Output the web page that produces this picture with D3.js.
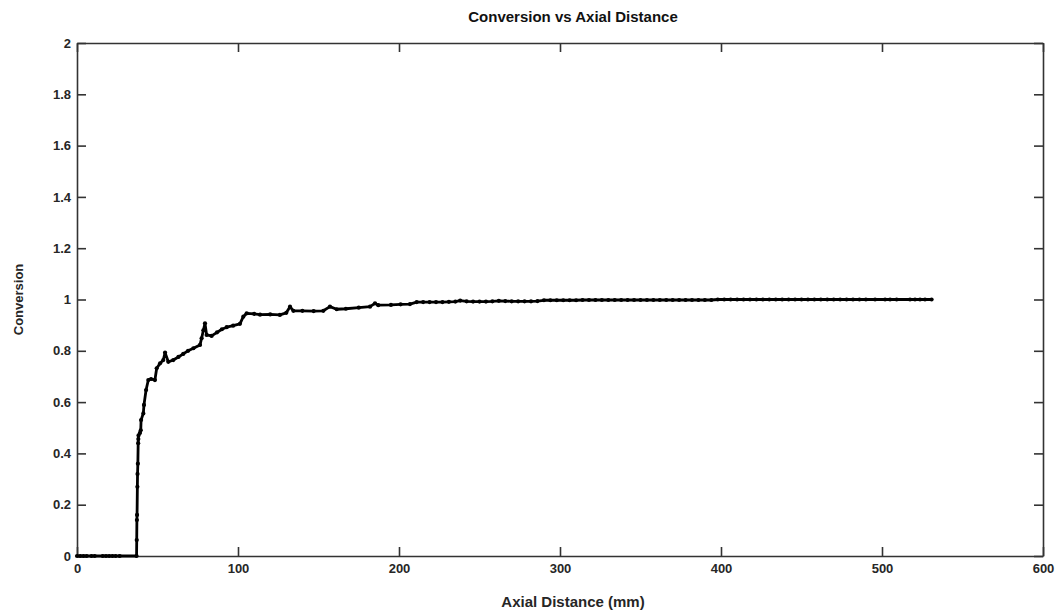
<!DOCTYPE html>
<html>
<head>
<meta charset="utf-8">
<script src="https://cdn.jsdelivr.net/npm/d3@7"></script>
<style>
  body { margin: 0; background: #fff; }
  svg { display: block; font-family: "Liberation Sans", Arial, sans-serif; }
  .axis path, .axis line { stroke: #333; stroke-width: 1.6; }
  .axis text { font-size: 13px; font-weight: bold; fill: #262626; }
</style>
</head>
<body>
<svg width="1060" height="611"></svg>
<script>
// values
var axialDistance = [
  0, 2, 4, 6, 9, 11, 16, 18, 20, 22, 24, 26.5, 37,
  37.1, 37.2, 37.3, 37.5, 37.6, 37.8, 38, 38.1, 38.2, 39.1, 39.6, 39.8,
  41.2, 41.6, 42.9, 44.3, 46, 48.4, 49.5, 51.6, 53.6, 54.7, 56.7, 59.8,
  63, 66, 69, 72.3, 76.4, 77.4, 78.5, 79.5, 80.5, 83.6, 87, 90, 93, 97,
  101.2, 103.3, 105.4, 110, 113.7, 120, 126, 130, 132.3, 134.4, 140, 147,
  153, 157.1, 161.3, 167, 175, 182, 185.1, 187.1, 195, 201, 206.8,
  211, 215, 219, 223, 227, 231, 235, 238, 242, 246, 250, 254, 258, 262,
  266, 270, 274, 278, 282, 286, 290, 294, 298, 302, 306, 310, 314, 318,
  322, 326, 330, 334, 338, 342, 346, 350, 354, 358, 362, 366, 370, 374,
  378, 382, 386, 390, 394, 398, 402, 406, 410, 414, 418, 422, 426, 430,
  434, 438, 442, 446, 450, 454, 458, 462, 466, 470, 474, 478, 482, 486,
  490, 495.7, 501.9, 505, 509.1, 517.4, 520.5, 523.6, 526.7, 530.8
];
var conversion = [
  0, 0, 0, 0, 0, 0, 0, 0, 0, 0, 0, 0, 0,
  0.062, 0.14, 0.16, 0.27, 0.32, 0.36, 0.44, 0.456, 0.47, 0.48, 0.49, 0.53,
  0.556, 0.589, 0.647, 0.686, 0.69, 0.686, 0.732, 0.751, 0.764, 0.793, 0.757, 0.764,
  0.776, 0.788, 0.8, 0.81, 0.823, 0.849, 0.88, 0.907, 0.862, 0.858, 0.872, 0.884, 0.892, 0.898,
  0.905, 0.933, 0.946, 0.944, 0.941, 0.942, 0.94, 0.948, 0.972, 0.956, 0.956, 0.955,
  0.956, 0.972, 0.962, 0.964, 0.968, 0.972, 0.985, 0.978, 0.979, 0.981, 0.982,
  0.99, 0.99, 0.99, 0.99, 0.99, 0.991, 0.992, 0.996, 0.993, 0.992, 0.992, 0.992, 0.993, 0.995,
  0.994, 0.993, 0.993, 0.993, 0.993, 0.994, 0.997, 0.997, 0.997, 0.997, 0.997, 0.997, 0.998, 0.998,
  0.998, 0.998, 0.998, 0.998, 0.998, 0.998, 0.998, 0.998, 0.998, 0.998, 0.998, 0.998, 0.998, 0.998,
  0.998, 0.998, 0.998, 0.998, 0.998, 1, 1, 1, 1, 1, 1, 1, 1, 1,
  1, 1, 1, 1, 1, 1, 1, 1, 1, 1, 1, 1, 1, 1,
  1, 1, 1, 1, 1, 1, 1, 1, 1, 1
];
var xTicks = [0, 100, 200, 300, 400, 500, 600];
var yTicks = [0, 0.2, 0.4, 0.6, 0.8, 1, 1.2, 1.4, 1.6, 1.8, 2];

var points = axialDistance.map(function(d, i) { return {x: d, y: conversion[i]}; });

var svg = d3.select("svg");
var margin = {left: 77, top: 43, right: 1060 - 1043, bottom: 611 - 556};
var width = 1060 - margin.left - margin.right,
    height = 611 - margin.top - margin.bottom;

var x = d3.scaleLinear().domain([0, 600]).range([0, width]);
var y = d3.scaleLinear().domain([0, 2]).range([height, 0]);

var g = svg.append("g")
    .attr("transform", "translate(" + margin.left + "," + margin.top + ")");

//axes: ticks point inward, mirrored on top and right
g.append("g").attr("class", "axis")
    .attr("transform", "translate(0," + height + ")")
    .call(d3.axisBottom(x).tickValues(xTicks).tickFormat(d3.format("d"))
      .tickSizeInner(-9).tickSizeOuter(0).tickPadding(8));
g.append("g").attr("class", "axis")
    .call(d3.axisTop(x).tickValues(xTicks).tickFormat("")
      .tickSizeInner(-9).tickSizeOuter(0));
g.append("g").attr("class", "axis")
    .call(d3.axisLeft(y).tickValues(yTicks).tickFormat(d3.format("~g"))
      .tickSizeInner(-9).tickSizeOuter(0).tickPadding(6));
g.append("g").attr("class", "axis")
    .attr("transform", "translate(" + width + ",0)")
    .call(d3.axisRight(y).tickValues(yTicks).tickFormat("")
      .tickSizeInner(-9).tickSizeOuter(0));

//the curve
var line = d3.line()
    .x(function(d) { return x(d.x); })
    .y(function(d) { return y(d.y); });

g.append("path")
    .datum(points)
    .attr("fill", "none")
    .attr("stroke", "#000")
    .attr("stroke-width", 2.8)
    .attr("stroke-linejoin", "round")
    .attr("d", line);

g.append("g")
  .selectAll("circle")
  .data(points)
  .enter().append("circle")
    .attr("cx", function(d) { return x(d.x); })
    .attr("cy", function(d) { return y(d.y); })
    .attr("r", 2.1)
    .attr("fill", "#000");

//titles
svg.append("text")
    .attr("x", 573).attr("y", 22)
    .attr("text-anchor", "middle")
    .style("font-size", "15px").style("font-weight", "bold").style("fill", "#111")
    .text("Conversion vs Axial Distance");

svg.append("text")
    .attr("x", 573).attr("y", 607)
    .attr("text-anchor", "middle")
    .style("font-size", "15px").style("font-weight", "bold").style("fill", "#262626")
    .text("Axial Distance (mm)");

svg.append("text")
    .attr("transform", "translate(23," + (margin.top + height / 2) + ") rotate(-90)")
    .attr("text-anchor", "middle")
    .style("font-size", "13px").style("font-weight", "bold").style("fill", "#262626")
    .text("Conversion");
</script>
</body>
</html>
